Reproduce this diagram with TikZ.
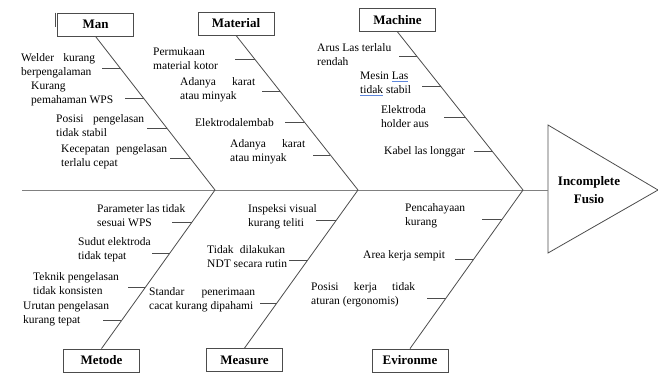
\documentclass[tikz,border=0pt]{standalone}
\usepackage{fontspec}
\setmainfont{Liberation Serif}
\usepackage{tikz}
\usetikzlibrary{calc}
\definecolor{linegray}{gray}{0.3}
\definecolor{spinegray}{gray}{0.5}
\definecolor{spellblue}{RGB}{95,135,220}
\newcommand{\spread}[2]{\makebox[#1][s]{#2}}
\newsavebox{\spellbox}
\newcommand{\spellmark}[1]{\sbox{\spellbox}{#1}\rlap{\textcolor{spellblue}{\rule[-0.55ex]{\wd\spellbox}{1.3pt}}}\usebox{\spellbox}}

\tikzset{
  catbox/.style={draw=linegray, line width=0.8pt, minimum width=76pt, minimum height=23pt, inner sep=0pt, font=\fontsize{13}{16}\selectfont\bfseries},
  bone/.style={draw=linegray, line width=0.8pt},
  spine/.style={draw=spinegray, line width=0.9pt},
  cause/.style={anchor=west, inner sep=0pt, align=left, font=\fontsize{11.5}{14}\selectfont},
}

\begin{document}
\begin{tikzpicture}[x=1pt, y=-1pt]
            \useasboundingbox (0,0) rectangle (658,381);

            % head of the fish
            \coordinate (tail) at (22,190);
            \coordinate (headL) at (548,190);
            \draw[bone] (headL) -- (548,125) -- (658,190) -- (548,253) -- cycle;
            \node[font=\fontsize{13}{18}\selectfont\bfseries, align=center] (effect) at (589,190) {Incomplete\\Fusio};
            \draw[spine] (tail) -- (headL);

            % joints on the spine
            \coordinate (jA) at (215,190);
            \coordinate (jB) at (358,190);
            \coordinate (jC) at (523,190);

            % categories
            \node[catbox] (man) at (95.5,24.5) {Man};
            \node[catbox] (material) at (236,23.5) {Material};
            \node[catbox] (machine) at (397.5,20) {Machine};
            \node[catbox] (metode) at (101.5,360.5) {Metode};
            \node[catbox] (measure) at (244.5,360) {Measure};
            \node[catbox] (evironme) at (410,360.5) {Evironme};
            \draw[line width=1.2pt, linegray] ($(man.north west)+(-2,0)$) -- ++(0,14);

            \draw[bone] (man.south) -- (jA);
            \draw[bone] (material.south) -- (jB);
            \draw[bone] (machine.south) -- (jC);
            \draw[bone] (metode.north) -- (jA);
            \draw[bone] (measure.north) -- (jB);
            \draw[bone] (evironme.north) -- (jC);

            % Man
            \coordinate (man1) at ($(man.south)!0.208!(jA)$);
            \coordinate (man2) at ($(man.south)!0.403!(jA)$);
            \coordinate (man3) at ($(man.south)!0.597!(jA)$);
            \coordinate (man4) at ($(man.south)!0.792!(jA)$);
            \draw[bone] (man1) -- ++(-18,0);
            \draw[bone] (man2) -- ++(-19,0);
            \draw[bone] (man3) -- ++(-20,0);
            \draw[bone] (man4) -- ++(-20,0);
            \node[cause] (man1t) at (21,66) {\spread{74pt}{Welder kurang}\\berpengalaman};
            \node[cause] (man2t) at (31,93.5) {Kurang\\pemahaman WPS};
            \node[cause] (man3t) at (56,126) {\spread{88pt}{Posisi pengelasan}\\tidak stabil};
            \node[cause] (man4t) at (61,157) {\spread{106pt}{Kecepatan pengelasan}\\terlalu cepat};

            % Material
            \coordinate (mat1) at ($(material.south)!0.155!(jB)$);
            \coordinate (mat2) at ($(material.south)!0.361!(jB)$);
            \coordinate (mat3) at ($(material.south)!0.561!(jB)$);
            \coordinate (mat4) at ($(material.south)!0.774!(jB)$);
            \draw[bone] (mat1) -- ++(-20,0);
            \draw[bone] (mat2) -- ++(-18,0);
            \draw[bone] (mat3) -- ++(-19,0);
            \draw[bone] (mat4) -- ++(-17,0);
            \node[cause] (mat1t) at (153,58.5) {Permukaan\\material kotor};
            \node[cause] (mat2t) at (180,90) {\spread{75pt}{Adanya karat}\\atau minyak};
            \node[cause] (mat3t) at (195,123) {Elektrodalembab};
            \node[cause] (mat4t) at (230,152) {\spread{75pt}{Adanya karat}\\atau minyak};

            % Machine
            \coordinate (mac1) at ($(machine.south)!0.153!(jC)$);
            \coordinate (mac2) at ($(machine.south)!0.344!(jC)$);
            \coordinate (mac3) at ($(machine.south)!0.541!(jC)$);
            \coordinate (mac4) at ($(machine.south)!0.758!(jC)$);
            \draw[bone] (mac1) -- ++(-18,0);
            \draw[bone] (mac2) -- ++(-19,0);
            \draw[bone] (mac3) -- ++(-21,0);
            \draw[bone] (mac4) -- ++(-19,0);
            \node[cause] (mac1t) at (317,55) {Arus Las terlalu\\rendah};
            \node[cause] (mac2t) at (360,84) {Mesin \spellmark{Las}\\\spellmark{tidak} stabil};
            \node[cause] (mac3t) at (381,116.5) {Elektroda\\holder aus};
            \node[cause] (mac4t) at (384,152) {Kabel las longgar};

            % Metode
            \coordinate (met1) at ($(metode.north)!0.797!(jA)$);
            \coordinate (met2) at ($(metode.north)!0.601!(jA)$);
            \coordinate (met3) at ($(metode.north)!0.386!(jA)$);
            \coordinate (met4) at ($(metode.north)!0.175!(jA)$);
            \draw[bone] (met1) -- ++(-20,0);
            \draw[bone] (met2) -- ++(-18,0);
            \draw[bone] (met3) -- ++(-17,0);
            \draw[bone] (met4) -- ++(-18,0);
            \node[cause] (met1t) at (97,216) {Parameter las tidak\\sesuai WPS};
            \node[cause] (met2t) at (78,250) {Sudut elektroda\\tidak tepat};
            \node[cause] (met3t) at (33,284) {Teknik pengelasan\\tidak konsisten};
            \node[cause] (met4t) at (23,314) {Urutan pengelasan\\kurang tepat};

            % Measure
            \coordinate (mea1) at ($(measure.north)!0.810!(jB)$);
            \coordinate (mea2) at ($(measure.north)!0.557!(jB)$);
            \coordinate (mea3) at ($(measure.north)!0.285!(jB)$);
            \draw[bone] (mea1) -- ++(-20,0);
            \draw[bone] (mea2) -- ++(-19,0);
            \draw[bone] (mea3) -- ++(-17,0);
            \node[cause] (mea1t) at (248,217) {Inspeksi visual\\kurang teliti};
            \node[cause] (mea2t) at (207,256.5) {\spread{78pt}{Tidak dilakukan}\\NDT secara rutin};
            \node[cause] (mea3t) at (149,299.5) {\spread{106pt}{Standar penerimaan}\\cacat kurang dipahami};

            % Evironme
            \coordinate (env1) at ($(evironme.north)!0.816!(jC)$);
            \coordinate (env2) at ($(evironme.north)!0.563!(jC)$);
            \coordinate (env3) at ($(evironme.north)!0.316!(jC)$);
            \draw[bone] (env1) -- ++(-20,0);
            \draw[bone] (env2) -- ++(-19,0);
            \draw[bone] (env3) -- ++(-19,0);
            \node[cause] (env1t) at (405,216) {Pencahayaan\\kurang};
            \node[cause] (env2t) at (363,256) {Area kerja sempit};
            \node[cause] (env3t) at (311,295) {\spread{104pt}{Posisi kerja tidak}\\aturan (ergonomis)};
\end{tikzpicture}
\end{document}
